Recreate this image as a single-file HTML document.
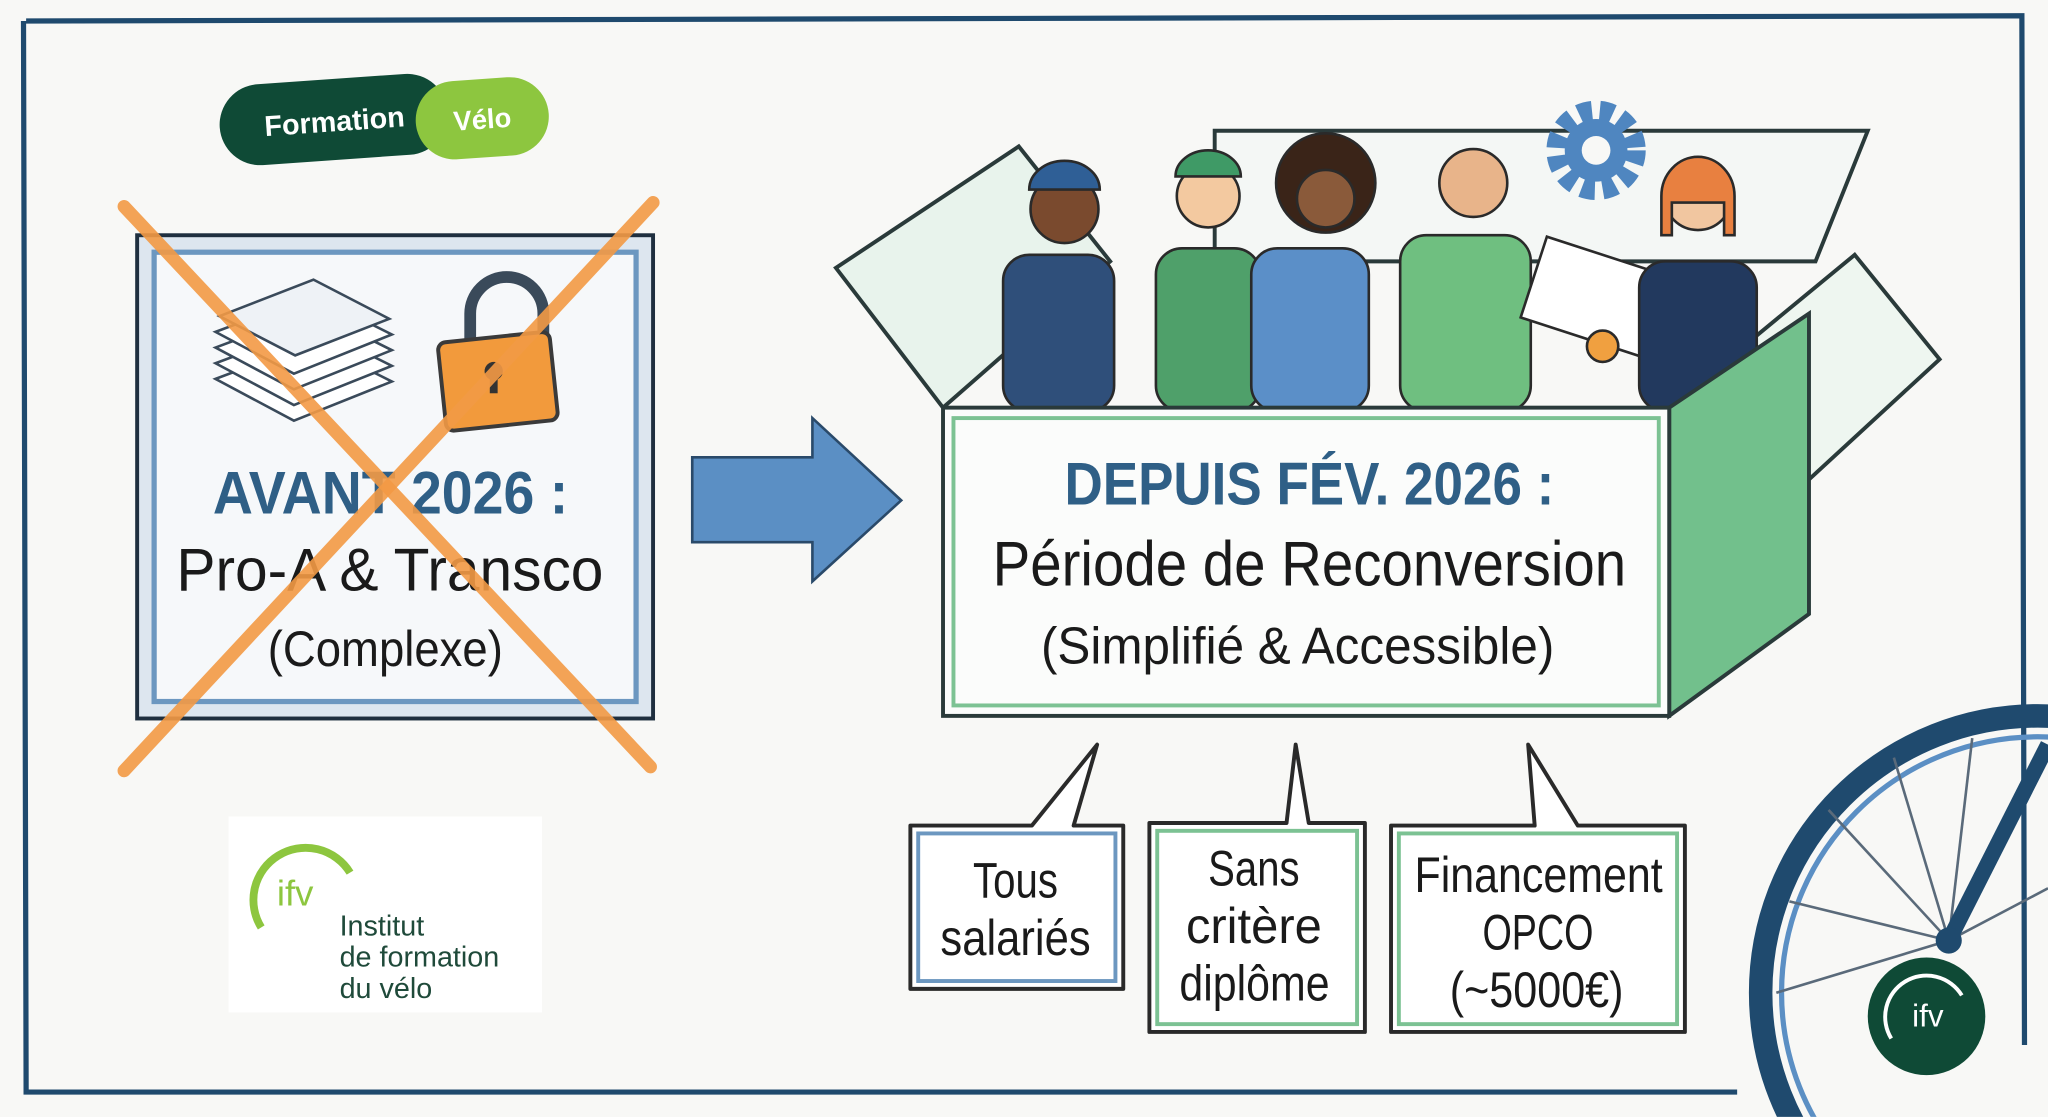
<!DOCTYPE html>
<html><head><meta charset="utf-8"><style>
html,body{margin:0;padding:0;background:#f8f8f6;width:2048px;height:1117px;overflow:hidden;}
svg{display:block;overflow:hidden}
text{font-family:"Liberation Sans Narrow","Liberation Sans",sans-serif;}
</style></head><body>
<svg width="2048" height="1117" viewBox="0 0 1568 855" xmlns="http://www.w3.org/2000/svg">
<defs><clipPath id="frame"><rect x="0" y="0" width="1568" height="855"/></clipPath></defs>
<rect width="1568" height="855" fill="#f8f8f6"/>
<path d="M20 16 L1548 12 L1550 800 M1330 836 L20 836 L18 16" fill="none" stroke="#1f4a6e" stroke-width="4"/>

<g transform="rotate(-4 290 90)">
<rect x="168" y="58" width="175" height="62" rx="31" fill="#0f4a36"/>
<rect x="318" y="66" width="102" height="60" rx="30" fill="#8dc63f"/>
<text x="256" y="98" font-size="22" font-weight="bold" fill="#fff" text-anchor="middle" font-family="Liberation Sans">Formation</text>
<text x="369" y="104" font-size="21" font-weight="bold" fill="#fff" text-anchor="middle" font-family="Liberation Sans">Vélo</text>
</g>

<rect x="105" y="180" width="395" height="370" fill="#dde6ef" stroke="#1f2f3f" stroke-width="3"/>
<rect x="118" y="193" width="369" height="344" fill="#f6f8fa" stroke="#6c97c0" stroke-width="4"/>
<g stroke="#3a4a5a" stroke-width="2" fill="#fff">
<polygon points="165,290 240,262 300,292 225,322"/>
<polygon points="165,278 240,250 300,280 225,310"/>
<polygon points="165,266 240,238 300,268 225,298"/>
<polygon points="165,254 240,226 300,256 225,286"/>
<polygon points="168,242 240,214 298,244 226,272" fill="#eef2f6"/>
</g>
<path d="M360 262 V240 a28 28 0 0 1 56 0 V262" fill="none" stroke="#3a4a5a" stroke-width="9"/>
<rect x="338" y="258" width="86" height="68" rx="6" fill="#f29a3c" stroke="#3a3a3a" stroke-width="3" transform="rotate(-6 380 290)"/>
<circle cx="378" cy="284" r="7" fill="#333"/><rect x="375" y="285" width="6" height="16" fill="#333"/>
<text x="163" y="393" font-size="46" fill="#2f5f86" font-weight="bold" textLength="272" lengthAdjust="spacingAndGlyphs">AVANT 2026 :</text>
<text x="135" y="452" font-size="46" fill="#1a1a1a" textLength="327" lengthAdjust="spacingAndGlyphs">Pro-A &amp; Transco</text>
<text x="205" y="510" font-size="38" fill="#1a1a1a" textLength="180" lengthAdjust="spacingAndGlyphs">(Complexe)</text>
<line x1="95" y1="158" x2="498" y2="587" stroke="#f39a45" stroke-width="10" stroke-linecap="round" opacity="0.9"/>
<line x1="500" y1="155" x2="95" y2="590" stroke="#f39a45" stroke-width="10" stroke-linecap="round" opacity="0.9"/>

<polygon points="530,350 622,350 622,320 690,383 622,445 622,415 530,415" fill="#5b8fc4" stroke="#2a4a6a" stroke-width="2"/>

<rect x="175" y="625" width="240" height="150" fill="#fff"/>
<path d="M200 710 A38 38 0 1 1 268 668" fill="none" stroke="#8dc63f" stroke-width="6"/>
<text x="212" y="693" font-size="28" fill="#8dc63f" font-family="Liberation Sans">ifv</text>
<text x="260" y="716" font-size="22" fill="#1f4a3a" font-family="Liberation Sans">Institut</text>
<text x="260" y="740" font-size="22" fill="#1f4a3a" font-family="Liberation Sans">de formation</text>
<text x="260" y="764" font-size="22" fill="#1f4a3a" font-family="Liberation Sans">du vélo</text>

<polygon points="930,100 1430,100 1390,200 930,200" fill="#f4f7f5" stroke="#2a3a3a" stroke-width="3"/>
<polygon points="722,312 640,205 780,112 850,200" fill="#e8f3ec" stroke="#2a3a3a" stroke-width="3"/>
<polygon points="1278,312 1420,195 1485,275 1360,390" fill="#eef6f0" stroke="#2a3a3a" stroke-width="3"/>
<circle cx="1222" cy="115" r="30" fill="none" stroke="#4f86c0" stroke-width="16" stroke-dasharray="10 6"/>
<circle cx="1222" cy="115" r="24" fill="#4f86c0"/><circle cx="1222" cy="115" r="11" fill="#f8f8f6"/>
<g stroke="#2a2a2a" stroke-width="2">
<rect x="768" y="195" width="85" height="120" rx="20" fill="#2f4f7a"/><circle cx="815" cy="160" r="26" fill="#7a4a2e"/><path d="M788 145 a27 22 0 0 1 54 0 z" fill="#2f5f96"/>
<rect x="885" y="190" width="80" height="125" rx="20" fill="#4fa06a"/><circle cx="925" cy="150" r="24" fill="#f3c9a0"/><path d="M900 135 a25 20 0 0 1 50 0 z" fill="#3f9a66"/>
<rect x="958" y="190" width="90" height="125" rx="20" fill="#5b8fc8"/><circle cx="1015" cy="140" r="38" fill="#3a2418"/><circle cx="1015" cy="152" r="22" fill="#8a5a3a"/>
<rect x="1072" y="180" width="100" height="135" rx="20" fill="#6fbf80"/><circle cx="1128" cy="140" r="26" fill="#e8b48a"/>
<rect x="1172" y="195" width="100" height="65" fill="#fff" transform="rotate(18 1222 227)"/><circle cx="1227" cy="265" r="12" fill="#f0a040"/>
<rect x="1255" y="200" width="90" height="115" rx="20" fill="#22395e"/><circle cx="1300" cy="150" r="26" fill="#f1c6a0"/><path d="M1272 150 a28 30 0 0 1 56 0 v30 h-8 v-25 h-40 v25 h-8 z" fill="#e88040"/>
</g>
<polygon points="1278,312 1385,240 1385,470 1278,548" fill="#72c08c" stroke="#2a3a3a" stroke-width="3"/>
<rect x="722" y="312" width="556" height="236" fill="#fbfcfb" stroke="#2a3a3a" stroke-width="3"/>
<rect x="730" y="320" width="540" height="220" fill="none" stroke="#7cc293" stroke-width="3"/>
<text x="815" y="386" font-size="46" fill="#2f5f86" font-weight="bold" textLength="375" lengthAdjust="spacingAndGlyphs">DEPUIS FÉV. 2026 :</text>
<text x="760" y="448" font-size="48" fill="#1a1a1a" textLength="485" lengthAdjust="spacingAndGlyphs">Période de Reconversion</text>
<text x="797" y="508" font-size="40" fill="#1a1a1a" textLength="393" lengthAdjust="spacingAndGlyphs">(Simplifié &amp; Accessible)</text>

<g stroke="#2a2a2a" stroke-width="3" stroke-linejoin="round">
<path d="M697 632 H790 L840 570 L822 632 H860 V757 H697 Z" fill="#fff"/>
<path d="M880 630 H985 L992 570 L1002 630 H1045 V790 H880 Z" fill="#fff"/>
<path d="M1065 632 H1175 L1170 570 L1208 632 H1290 V790 H1065 Z" fill="#fff"/>
</g>
<rect x="703" y="638" width="151" height="113" fill="none" stroke="#6c97c0" stroke-width="3"/>
<rect x="886" y="636" width="153" height="148" fill="none" stroke="#7cc293" stroke-width="3"/>
<rect x="1071" y="638" width="213" height="146" fill="none" stroke="#7cc293" stroke-width="3"/>
<g font-size="38" fill="#1a1a1a">
<text x="745" y="687" textLength="65" lengthAdjust="spacingAndGlyphs">Tous</text>
<text x="720" y="731" textLength="115" lengthAdjust="spacingAndGlyphs">salariés</text>
<text x="925" y="678" textLength="70" lengthAdjust="spacingAndGlyphs">Sans</text>
<text x="908" y="722" textLength="104" lengthAdjust="spacingAndGlyphs">critère</text>
<text x="903" y="766" textLength="115" lengthAdjust="spacingAndGlyphs">diplôme</text>
<text x="1083" y="683" textLength="190" lengthAdjust="spacingAndGlyphs">Financement</text>
<text x="1135" y="727" textLength="85" lengthAdjust="spacingAndGlyphs">OPCO</text>
<text x="1110" y="771" textLength="133" lengthAdjust="spacingAndGlyphs">(~5000€)</text>
</g>

<g clip-path="url(#frame)">
<circle cx="1560" cy="760" r="212" fill="none" stroke="#1f4a6e" stroke-width="18"/>
<circle cx="1560" cy="760" r="196" fill="none" stroke="#5b8fc4" stroke-width="4"/>
<g stroke="#5a6a7a" stroke-width="2">
<line x1="1492" y1="720" x2="1370" y2="690"/><line x1="1492" y1="720" x2="1400" y2="620"/><line x1="1492" y1="720" x2="1450" y2="580"/>
<line x1="1492" y1="720" x2="1510" y2="565"/><line x1="1492" y1="720" x2="1360" y2="760"/><line x1="1492" y1="720" x2="1568" y2="680"/>
</g>
<line x1="1492" y1="720" x2="1568" y2="570" stroke="#1f4a6e" stroke-width="12"/>
</g>
<circle cx="1492" cy="720" r="10" fill="#1f4a6e"/>
<circle cx="1475" cy="778" r="45" fill="#0f4a36"/>
<path d="M1448 795 A30 30 0 1 1 1502 762" fill="none" stroke="#fff" stroke-width="3"/>
<text x="1476" y="786" font-size="24" fill="#fff" text-anchor="middle" font-family="Liberation Sans">ifv</text>
</svg>
</body></html>
